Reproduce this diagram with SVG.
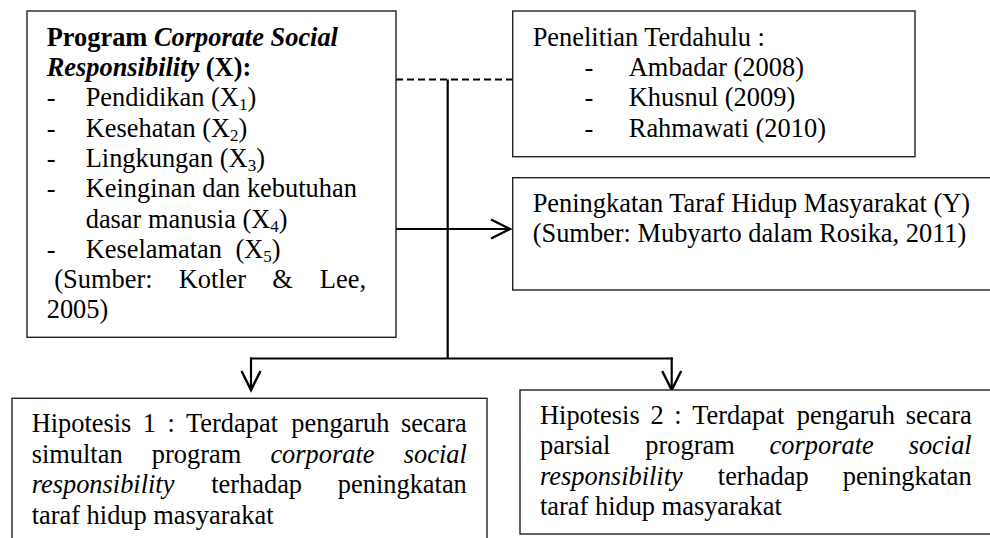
<svg xmlns="http://www.w3.org/2000/svg" width="990" height="538" viewBox="0 0 990 538">
<style>
  text { font-family: "Liberation Serif", "Times New Roman", serif; font-size: 26.4px; fill: #000; }
  .b { font-weight: bold; }
  .i { font-style: italic; }
  .box { fill: #fff; stroke: #222; stroke-width: 1.4; }
  .ln { fill: none; stroke: #000; stroke-width: 2.2; }
  .dash { fill: none; stroke: #000; stroke-width: 1.8; stroke-dasharray: 7 4; }
  .sub { font-size: 17px; }
</style>
<defs>
  <marker id="arr" markerUnits="userSpaceOnUse" markerWidth="24" markerHeight="24" refX="19" refY="9.5" orient="auto" viewBox="-2 -2 24 24">
    <path d="M0,0 L19,9.5 L0,19" fill="none" stroke="#000" stroke-width="2.4"/>
  </marker>
</defs>
<rect width="990" height="538" fill="#fff"/>

<g id="connectors">
  <line class="dash" x1="396" y1="79.5" x2="512.7" y2="79.5"/>
  <line class="ln" x1="447.7" y1="79.5" x2="447.7" y2="359"/>
  <line class="ln" x1="396" y1="229" x2="510" y2="229" marker-end="url(#arr)"/>
  <line class="ln" x1="250" y1="358.5" x2="672.8" y2="358.5"/>
  <line class="ln" x1="251" y1="357.5" x2="251" y2="390" marker-end="url(#arr)"/>
  <line class="ln" x1="671.7" y1="357.5" x2="671.7" y2="390" marker-end="url(#arr)"/>
</g>

<g id="node-x">
  <rect class="box" x="27" y="11" width="369" height="326.3"/>
  <text x="46.7" y="45.7"><tspan class="b">Program </tspan><tspan class="b i">Corporate Social</tspan></text>
  <text x="46.7" y="76"><tspan class="b i">Responsibility</tspan><tspan class="b"> (X):</tspan></text>
  <text x="46.7" y="106.3">-</text>
  <text x="85.7" y="106.3">Pendidikan (X<tspan class="sub" dy="4">1</tspan><tspan dy="-4">)</tspan></text>
  <text x="46.7" y="136.6">-</text>
  <text x="85.7" y="136.6">Kesehatan (X<tspan class="sub" dy="4">2</tspan><tspan dy="-4">)</tspan></text>
  <text x="46.7" y="166.9">-</text>
  <text x="85.7" y="166.9">Lingkungan (X<tspan class="sub" dy="4">3</tspan><tspan dy="-4">)</tspan></text>
  <text x="46.7" y="197.2">-</text>
  <text x="85.7" y="197.2">Keinginan dan kebutuhan</text>
  <text x="85.7" y="227.5">dasar manusia (X<tspan class="sub" dy="4">4</tspan><tspan dy="-4">)</tspan></text>
  <text x="46.7" y="257.8">-</text>
  <text x="85.7" y="257.8">Keselamatan</text>
  <text x="235.5" y="257.8">(X<tspan class="sub" dy="4">5</tspan><tspan dy="-4">)</tspan></text>
  <text x="54.3" y="288.1">(Sumber:</text>
  <text x="178.7" y="288.1">Kotler</text>
  <text x="272.3" y="288.1">&amp;</text>
  <text x="366" y="288.1" text-anchor="end">Lee,</text>
  <text x="46.7" y="318.4">2005)</text>
</g>

<g id="node-penelitian">
  <rect class="box" x="512.7" y="11" width="402.3" height="145.7"/>
  <text x="532.7" y="45.7">Penelitian Terdahulu :</text>
  <text x="584.4" y="76">-</text>
  <text x="628.8" y="76">Ambadar (2008)</text>
  <text x="584.4" y="106.3">-</text>
  <text x="628.8" y="106.3">Khusnul (2009)</text>
  <text x="584.4" y="136.6">-</text>
  <text x="628.8" y="136.6">Rahmawati (2010)</text>
</g>

<g id="node-y">
  <rect class="box" x="512.7" y="177.7" width="490" height="112.3"/>
  <text x="532.7" y="211.5">Peningkatan Taraf Hidup Masyarakat (Y)</text>
  <text x="532.7" y="241.8">(Sumber: Mubyarto dalam Rosika, 2011)</text>
</g>

<g id="node-h1">
  <rect class="box" x="12" y="398.3" width="475" height="160"/>
  <text x="31.7" y="432.3">Hipotesis</text>
  <text x="142.8" y="432.3">1</text>
  <text x="167.4" y="432.3">:</text>
  <text x="186.1" y="432.3">Terdapat</text>
  <text x="291.3" y="432.3">pengaruh</text>
  <text x="466.8" y="432.3" text-anchor="end">secara</text>
  <text x="31.7" y="462.7">simultan</text>
  <text x="151.8" y="462.7">program</text>
  <text class="i" x="270.4" y="462.7">corporate</text>
  <text class="i" x="466.8" y="462.7" text-anchor="end">social</text>
  <text class="i" x="31.7" y="493.1">responsibility</text>
  <text x="211.2" y="493.1">terhadap</text>
  <text x="466.8" y="493.1" text-anchor="end">peningkatan</text>
  <text x="31.7" y="523.5">taraf hidup masyarakat</text>
</g>

<g id="node-h2">
  <rect class="box" x="520" y="390" width="490" height="144"/>
  <text x="540" y="424">Hipotesis</text>
  <text x="650.4" y="424">2</text>
  <text x="674.3" y="424">:</text>
  <text x="692.3" y="424">Terdapat</text>
  <text x="796.8" y="424">pengaruh</text>
  <text x="971.7" y="424" text-anchor="end">secara</text>
  <text x="540" y="454.4">parsial</text>
  <text x="645.3" y="454.4">program</text>
  <text class="i" x="769.6" y="454.4">corporate</text>
  <text class="i" x="971.7" y="454.4" text-anchor="end">social</text>
  <text class="i" x="540" y="484.8">responsibility</text>
  <text x="717.8" y="484.8">terhadap</text>
  <text x="971.7" y="484.8" text-anchor="end">peningkatan</text>
  <text x="540" y="515.2">taraf hidup masyarakat</text>
</g>
</svg>
